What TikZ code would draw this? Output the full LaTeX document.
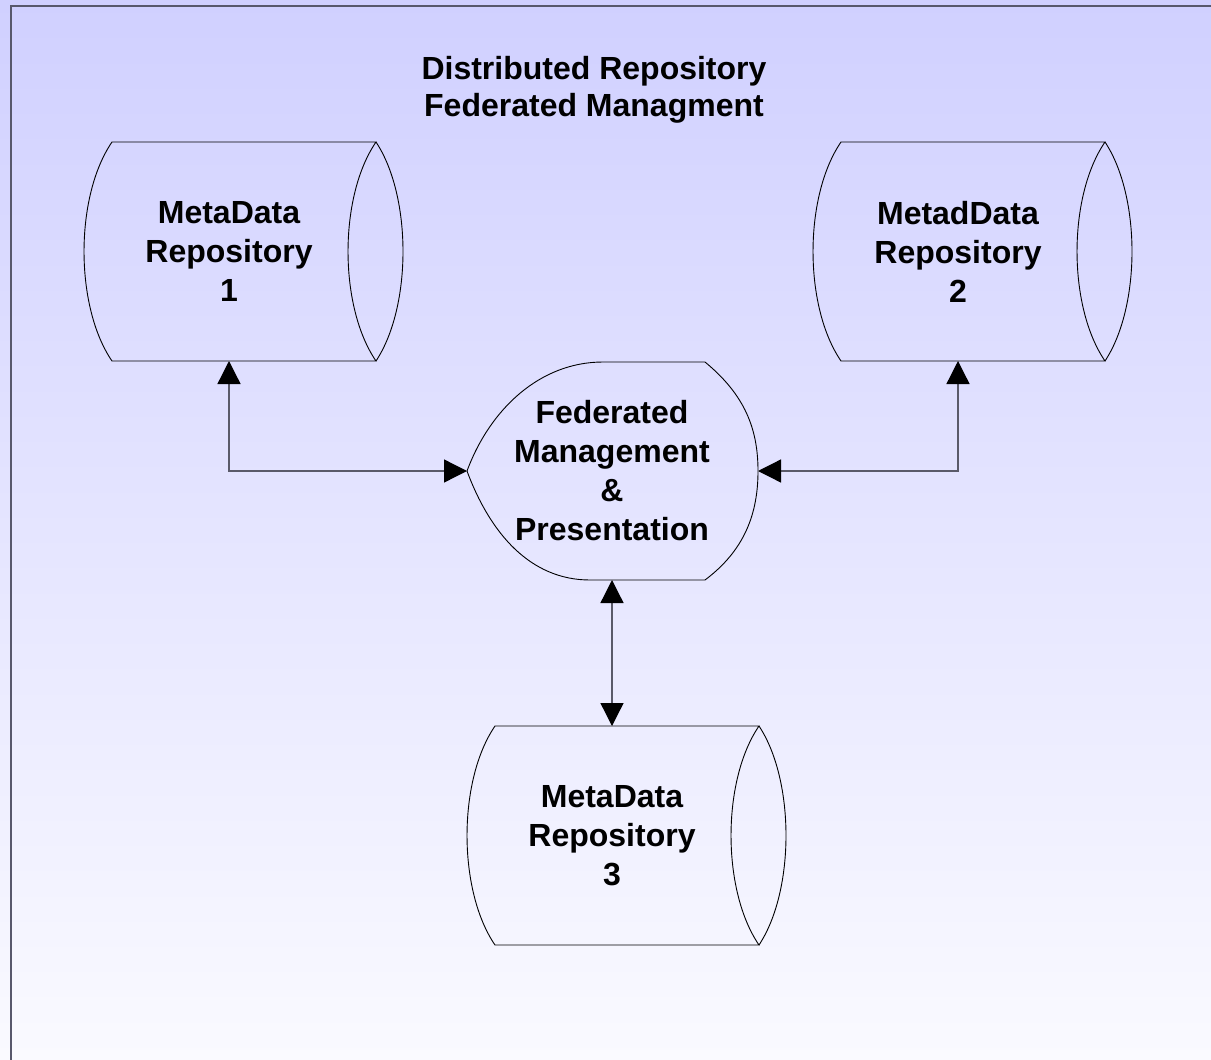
\documentclass[tikz,border=0pt]{standalone}
\usepackage{fontspec}
\setmainfont{Liberation Sans}
\usetikzlibrary{arrows.meta}

\definecolor{bgtop}{RGB}{208,208,255}
\definecolor{bgbot}{RGB}{250,250,255}
\definecolor{frame}{RGB}{88,88,108}
\definecolor{wire}{RGB}{90,90,105}

\tikzset{
  x=1pt, y=-1pt,
  outline/.style={draw=black, line width=0.9pt},
  label/.style={align=center, font=\fontsize{32}{39}\selectfont\bfseries, inner sep=0pt},
  link/.style={draw=wire, line width=1.3pt,
    {Triangle[width=23pt,length=23pt,color=black]}-{Triangle[width=23pt,length=23pt,color=black]}},
  % horizontal cylinder: bulged left end, open ellipse on the right
  repo/.pic={
    \draw[outline] (-117,-109.5) -- (147,-109.5)
      .. controls (109.7,-55) and (109.7,55) .. (147,109.5)
      -- (-117,109.5)
      .. controls (-154.3,55) and (-154.3,-55) .. cycle;
    \draw[outline] (147,-109.5) .. controls (183,-55) and (183,55) .. (147,109.5);
    \node[label] (-t) at (0,0) {#1};
    \coordinate (-b) at (0,109.5);
    \coordinate (-top) at (0,-109.5);
  },
  % display shape: pointed left side, rounded right side
  display/.pic={
    \draw[outline] (-9,-109) -- (93,-109)
      .. controls (133,-76) and (146,-42) .. (146,0)
      .. controls (146,42) and (133,79) .. (93,109)
      -- (-22,109)
      .. controls (-82,109) and (-122,62) .. (-145,0)
      .. controls (-122,-62) and (-72,-109) .. cycle;
    \node[label] (-t) at (0,0) {#1};
    \coordinate (-l) at (-145,0);
    \coordinate (-r) at (146,0);
    \coordinate (-b) at (0,109);
  }
}

\begin{document}
\begin{tikzpicture}
  % page background and frame
  \useasboundingbox (0,0) rectangle (1211,1060);
  \shade[top color=bgtop, bottom color=bgbot] (0,0) rectangle (1211,1060);
  \draw[frame, line width=2pt] (11,1060) -- (11,6) -- (1211,6);

  % heading
  \node[label, font=\fontsize{32}{37}\selectfont\bfseries] (title) at (594,90)
    {Distributed Repository\\Federated Managment};

  % repositories and the federating front end
  \pic (r1) at (229,251.5) {repo={MetaData\\Repository\\1}};
  \pic (r2) at (958,251.5) {repo={MetadData\\Repository\\2}};
  \pic (r3) at (612,835.5) {repo={MetaData\\Repository\\3}};
  \pic (fm) at (612,471) {display={Federated\\Management\\\&\\Presentation}};

  % connectors
  \draw[link] (r1-b) |- (fm-l);
  \draw[link] (r2-b) |- (fm-r);
  \draw[link] (fm-b) -- (r3-top);
\end{tikzpicture}
\end{document}
